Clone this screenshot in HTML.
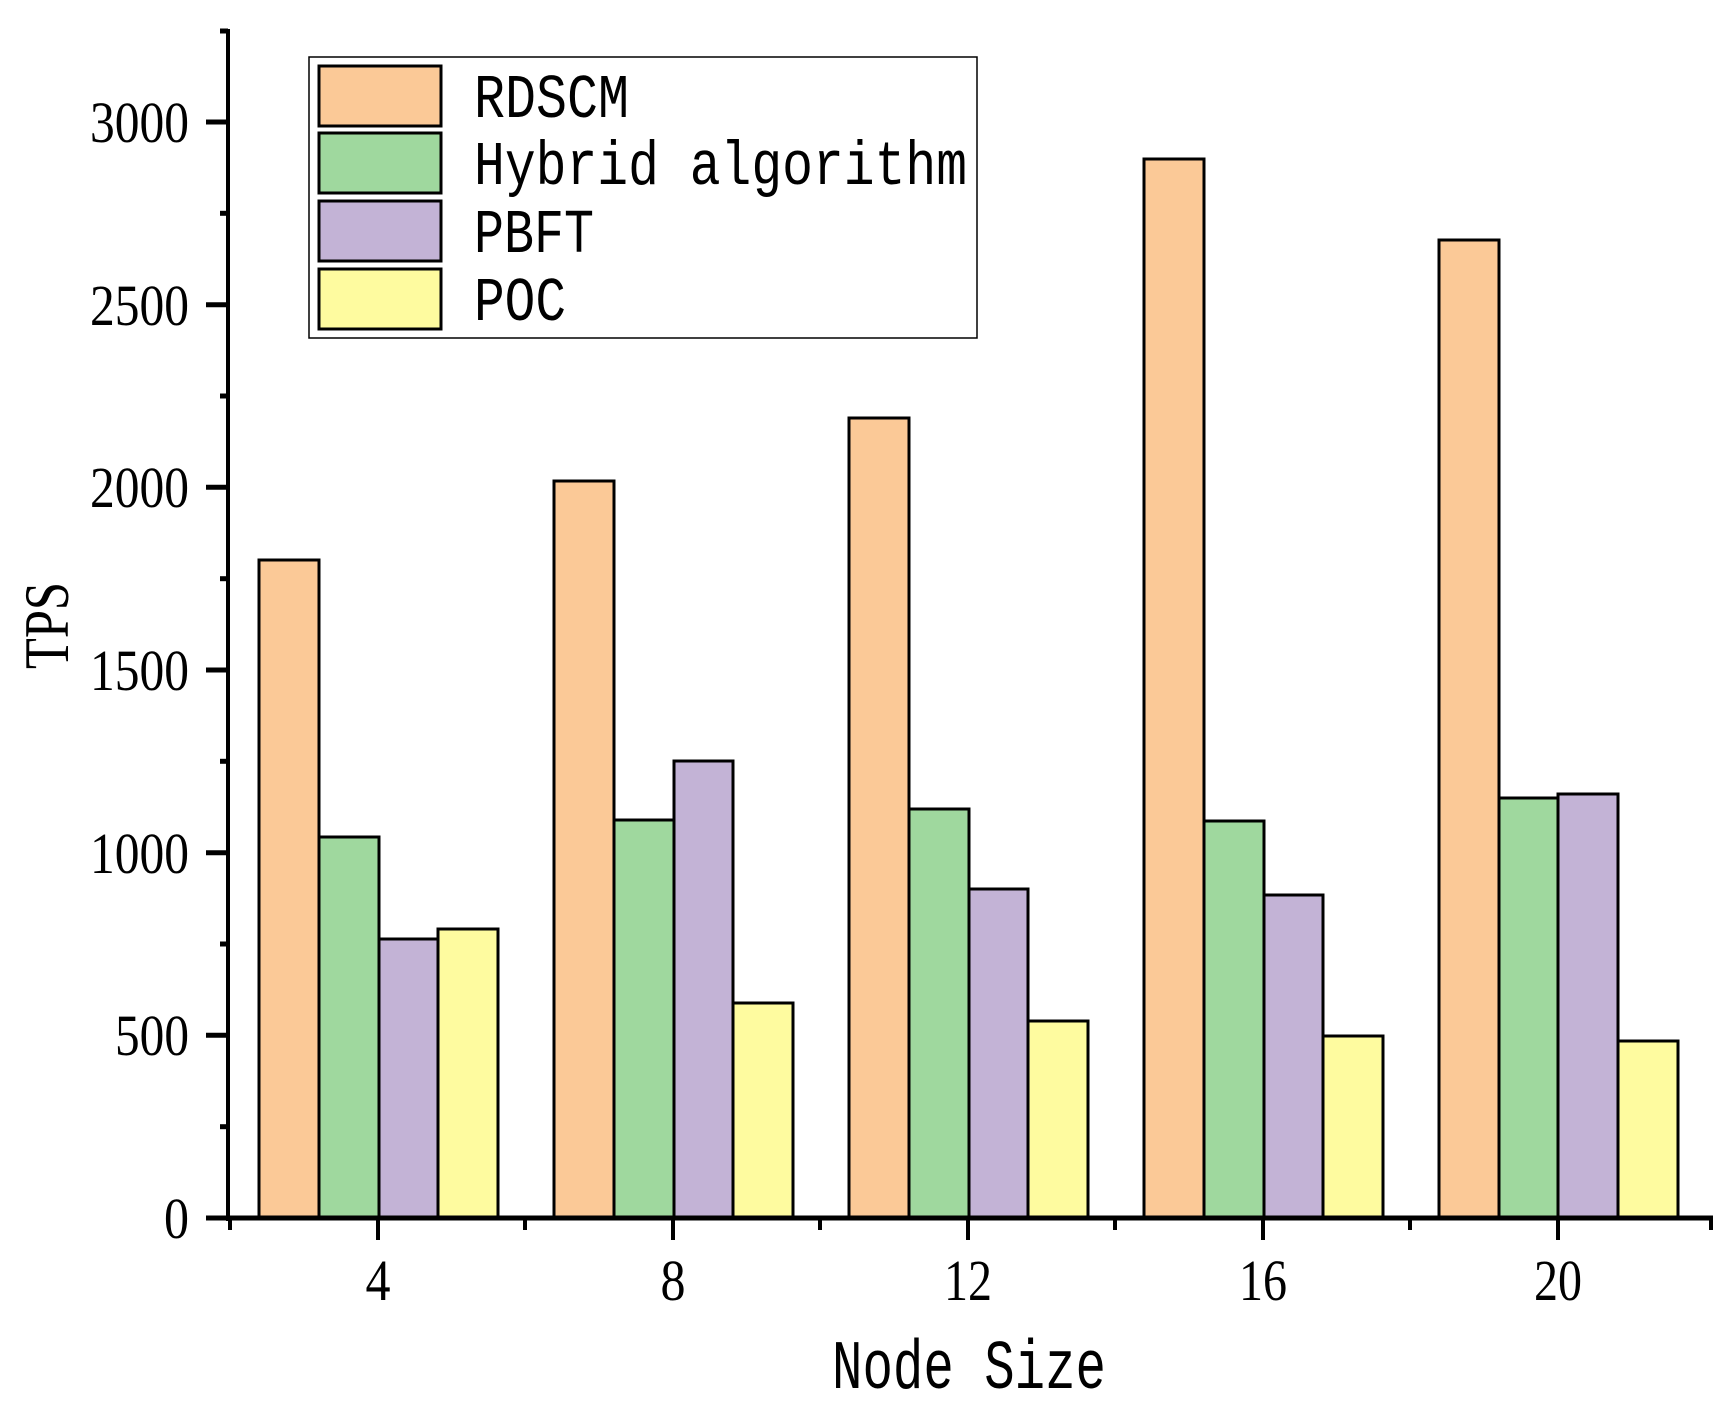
<!DOCTYPE html>
<html><head><meta charset="utf-8"><style>html,body{margin:0;padding:0;background:#fff}svg{display:block}</style></head>
<body>
<svg width="1726" height="1414" viewBox="0 0 1726 1414" xmlns="http://www.w3.org/2000/svg">
<g stroke="#000" stroke-width="3">
<rect x="259" y="560" width="60" height="658" fill="#FBC997"/>
<rect x="319" y="837" width="60" height="381" fill="#9FD89E"/>
<rect x="379" y="939" width="59" height="279" fill="#C3B3D6"/>
<rect x="438" y="929" width="60" height="289" fill="#FEFB9F"/>
<rect x="554" y="481" width="60" height="737" fill="#FBC997"/>
<rect x="614" y="820" width="60" height="398" fill="#9FD89E"/>
<rect x="674" y="761" width="59" height="457" fill="#C3B3D6"/>
<rect x="733" y="1003" width="60" height="215" fill="#FEFB9F"/>
<rect x="849" y="418" width="60" height="800" fill="#FBC997"/>
<rect x="909" y="809" width="60" height="409" fill="#9FD89E"/>
<rect x="969" y="889" width="59" height="329" fill="#C3B3D6"/>
<rect x="1028" y="1021" width="60" height="197" fill="#FEFB9F"/>
<rect x="1144" y="159" width="60" height="1059" fill="#FBC997"/>
<rect x="1204" y="821" width="60" height="397" fill="#9FD89E"/>
<rect x="1264" y="895" width="59" height="323" fill="#C3B3D6"/>
<rect x="1323" y="1036" width="60" height="182" fill="#FEFB9F"/>
<rect x="1439" y="240" width="60" height="978" fill="#FBC997"/>
<rect x="1499" y="798" width="59" height="420" fill="#9FD89E"/>
<rect x="1558" y="794" width="60" height="424" fill="#C3B3D6"/>
<rect x="1618" y="1041" width="60" height="177" fill="#FEFB9F"/>
</g>
<g stroke="#000">
<line x1="228" y1="29" x2="228" y2="1221" stroke-width="4"/>
<line x1="206" y1="1218" x2="1713" y2="1218" stroke-width="5"/>
<g stroke-width="5">
<line x1="206" y1="122" x2="228" y2="122"/>
<line x1="206" y1="304.7" x2="228" y2="304.7"/>
<line x1="206" y1="487.3" x2="228" y2="487.3"/>
<line x1="206" y1="670" x2="228" y2="670"/>
<line x1="206" y1="852.7" x2="228" y2="852.7"/>
<line x1="206" y1="1035.3" x2="228" y2="1035.3"/>
<line x1="220" y1="213.3" x2="228" y2="213.3"/>
<line x1="220" y1="396" x2="228" y2="396"/>
<line x1="220" y1="578.7" x2="228" y2="578.7"/>
<line x1="220" y1="761.3" x2="228" y2="761.3"/>
<line x1="220" y1="944" x2="228" y2="944"/>
<line x1="220" y1="1126.7" x2="228" y2="1126.7"/>
<line x1="220" y1="31" x2="228" y2="31"/>
</g>
<g stroke-width="4">
<line x1="378" y1="1218" x2="378" y2="1240"/>
<line x1="673" y1="1218" x2="673" y2="1240"/>
<line x1="968" y1="1218" x2="968" y2="1240"/>
<line x1="1263" y1="1218" x2="1263" y2="1240"/>
<line x1="1558" y1="1218" x2="1558" y2="1240"/>
<line x1="230" y1="1218" x2="230" y2="1230"/>
<line x1="525" y1="1218" x2="525" y2="1230"/>
<line x1="820" y1="1218" x2="820" y2="1230"/>
<line x1="1115" y1="1218" x2="1115" y2="1230"/>
<line x1="1410" y1="1218" x2="1410" y2="1230"/>
<line x1="1711" y1="1218" x2="1711" y2="1230"/>
</g>
</g>
<g font-family="Liberation Serif, serif" font-size="58" fill="#000" text-anchor="end">
<text x="189" y="142" textLength="99" lengthAdjust="spacingAndGlyphs">3000</text>
<text x="189" y="325" textLength="99" lengthAdjust="spacingAndGlyphs">2500</text>
<text x="189" y="507" textLength="99" lengthAdjust="spacingAndGlyphs">2000</text>
<text x="189" y="690" textLength="99" lengthAdjust="spacingAndGlyphs">1500</text>
<text x="189" y="873" textLength="99" lengthAdjust="spacingAndGlyphs">1000</text>
<text x="189" y="1055" textLength="74" lengthAdjust="spacingAndGlyphs">500</text>
<text x="189" y="1238" textLength="25" lengthAdjust="spacingAndGlyphs">0</text>
</g>
<g font-family="Liberation Serif, serif" font-size="58" fill="#000" text-anchor="middle">
<text x="378" y="1300" textLength="25" lengthAdjust="spacingAndGlyphs">4</text>
<text x="673" y="1300" textLength="25" lengthAdjust="spacingAndGlyphs">8</text>
<text x="968" y="1300" textLength="48" lengthAdjust="spacingAndGlyphs">12</text>
<text x="1263" y="1300" textLength="48" lengthAdjust="spacingAndGlyphs">16</text>
<text x="1558" y="1300" textLength="48" lengthAdjust="spacingAndGlyphs">20</text>
</g>
<text x="832" y="1388" font-family="Liberation Mono, monospace" font-size="70" textLength="274" lengthAdjust="spacingAndGlyphs">Node Size</text>
<text transform="translate(68,669) rotate(-90)" font-family="Liberation Serif, serif" font-size="64" textLength="87" lengthAdjust="spacingAndGlyphs">TPS</text>
<rect x="309" y="57" width="668" height="281" fill="#fff" stroke="#000" stroke-width="1.5"/>
<g stroke="#000" stroke-width="3">
<rect x="319" y="66" width="122" height="60" fill="#FBC997"/>
<rect x="319" y="133" width="122" height="60" fill="#9FD89E"/>
<rect x="319" y="201" width="122" height="60" fill="#C3B3D6"/>
<rect x="319" y="269" width="122" height="60" fill="#FEFB9F"/>
</g>
<g font-family="Liberation Mono, monospace" font-size="62" fill="#000">
<text x="474" y="117" textLength="155" lengthAdjust="spacingAndGlyphs">RDSCM</text>
<text x="474" y="184" textLength="493" lengthAdjust="spacingAndGlyphs">Hybrid algorithm</text>
<text x="474" y="252" textLength="120" lengthAdjust="spacingAndGlyphs">PBFT</text>
<text x="474" y="320" textLength="92" lengthAdjust="spacingAndGlyphs">POC</text>
</g>
</svg>
</body></html>
